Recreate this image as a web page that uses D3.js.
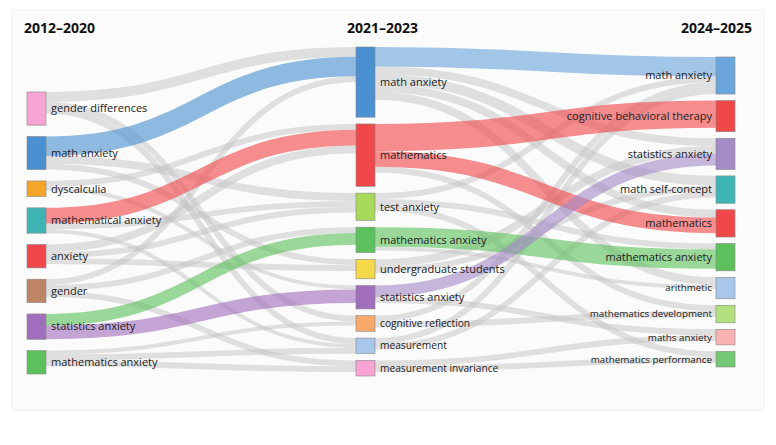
<!DOCTYPE html>
<html><head><meta charset="utf-8">
<script src="https://cdn.jsdelivr.net/npm/d3@7"></script>
<style>body{margin:0;background:#fff;font-family:"Open Sans",sans-serif}</style>
</head><body>
<script>
// columns and keyword nodes (values = occurrence weight)
const columns = ["2012–2020", "2021–2023", "2024–2025"]
const leftNames = ["gender differences","math anxiety","dyscalculia","mathematical anxiety","anxiety","gender","statistics anxiety","mathematics anxiety"]
const leftValues = [17,17,8,13,12,12,13,12]
const leftColors = ["#f7a3d3","#4b90d1","#f5a52a","#3eb4b4","#f0474a","#be8466","#a16ebd","#5cc15c"]
const midNames = ["math anxiety","mathematics","test anxiety","mathematics anxiety","undergraduate students","statistics anxiety","cognitive reflection","measurement","measurement invariance"]
const midValues = [36,32,14,13,10,12,8,8,8]
const midColors = ["#4b90d1","#f0474a","#a8d95a","#5cc15c","#f5d94a","#a16ebd","#f7a86a","#a9c7eb","#f7a3d3"]
const rightNames = ["math anxiety","cognitive behavioral therapy","statistics anxiety","math self-concept","mathematics","mathematics anxiety","arithmetic","mathematics development","maths anxiety","mathematics performance"]
const rightValues = [19,16,16,14,14,14,11,9,8,8]
const rightColors = ["#6aa5db","#f0474a","#a58bc6","#3eb4b4","#f0474a","#5cc15c","#a9c7eb","#b3e07f","#f9b3b3","#74c974"]

// links: [source column, source index, target index, value, highlighted]
const links = [
  [0,0,0,5,0],[0,0,7,3,0],[0,0,6,3,0],
  [0,1,0,10,1],[0,1,2,4,0],[0,1,4,3,0],
  [0,2,1,3,0],[0,2,5,2,0],
  [0,3,1,8,1],[0,3,2,3,0],[0,3,7,2,0],
  [0,4,1,4,0],[0,4,2,3,0],[0,4,4,3,0],
  [0,5,0,3,0],[0,5,3,3,0],[0,5,8,3,0],
  [0,6,5,7,1],[0,6,3,6,1],
  [0,7,8,3,0],[0,7,7,3,0],[0,7,6,2,0],
  [1,0,0,10,1],[1,0,2,4,0],[1,0,3,5,0],[1,0,6,4,0],[1,0,4,4,0],
  [1,1,1,14,1],[1,1,4,8,1],[1,1,7,3,0],
  [1,2,0,3,0],[1,2,5,3,0],[1,2,9,3,0],
  [1,3,5,10,1],[1,3,6,2,0],
  [1,4,2,4,0],[1,4,3,3,0],
  [1,5,2,6,1],[1,5,8,3,0],
  [1,6,0,3,0],[1,6,7,3,0],
  [1,7,0,3,0],[1,7,3,3,0],
  [1,8,9,3,0],[1,8,8,3,0]
]

const W = 776, H = 445, nodeW = 19
const colX = [27, 356, 716]
const colSpan = [[92, 374], [47, 376], [57, 367]]

const svg = d3.select("body").append("svg").attr("width", W).attr("height", H)
svg.append("rect").attr("x", 12).attr("y", 10).attr("width", 752).attr("height", 400)
  .attr("fill", "#fbfbfb").attr("stroke", "#f0f0f0")

const k = 1.95 // px per unit
const cols = [[leftNames, leftValues, leftColors], [midNames, midValues, midColors], [rightNames, rightValues, rightColors]]
const nodes = cols.map((c, ci) => {
  const total = d3.sum(c[1]) * k
  const pad = (colSpan[ci][1] - colSpan[ci][0] - total) / (c[0].length - 1)
  let y = colSpan[ci][0]
  return c[0].map((name, i) => {
    const h = c[1][i] * k
    const n = { name, col: ci, x: colX[ci], y0: y, y1: y + h, color: c[2][i], outY: y, inY: y }
    y += h + pad
    return n
  })
})

// build link geometry, stacking in order of the other end
const L = links.map(([c, s, t, v, hi]) => ({ src: nodes[c][s], tgt: nodes[c + 1][t], v, hi }))
d3.sort(L, d => d.src.col, d => d.src.y0, d => d.tgt.y0).forEach(d => { d.sy = d.src.outY + d.v * k / 2; d.src.outY += d.v * k })
d3.sort(L, d => d.tgt.col, d => d.tgt.y0, d => d.src.y0).forEach(d => { d.ty = d.tgt.inY + d.v * k / 2; d.tgt.inY += d.v * k })

const linkPath = d3.linkHorizontal().x(d => d[0]).y(d => d[1])
svg.append("g").selectAll("path")
  .data(d3.sort(L, d => d.hi))
  .join("path")
  .attr("d", d => linkPath({ source: [d.src.x + nodeW, d.sy], target: [d.tgt.x, d.ty] }))
  .attr("fill", "none")
  .attr("stroke", d => d.hi ? d.tgt.color : "#c4c4c4")
  .attr("stroke-opacity", d => d.hi ? 0.62 : 0.5)
  .attr("stroke-width", d => d.v * k)

const allNodes = nodes.flat()
svg.append("g").selectAll("rect").data(allNodes).join("rect")
  .attr("x", d => d.x).attr("y", d => d.y0)
  .attr("width", nodeW).attr("height", d => d.y1 - d.y0)
  .attr("fill", d => d.color).attr("stroke", "#888").attr("stroke-width", 0.6)

svg.append("g").selectAll("text").data(allNodes).join("text")
  .attr("x", d => d.col === 2 ? d.x - 4 : d.x + nodeW + 5)
  .attr("y", d => (d.y0 + d.y1) / 2)
  .attr("dy", "0.35em")
  .attr("text-anchor", d => d.col === 2 ? "end" : "start")
  .attr("font-size", d => (d.col === 2 && d.y1 - d.y0 < 25) ? 9.8 : (d.col === 1 && d.y1 - d.y0 < 17) ? 10.2 : 11)
  .attr("fill", "#222")
  .text(d => d.name)

svg.append("g").selectAll("text").data(columns).join("text")
  .attr("x", (d, i) => [24, 347, 752][i])
  .attr("y", 33)
  .attr("text-anchor", (d, i) => i === 2 ? "end" : "start")
  .attr("font-size", 14).attr("font-weight", "bold").attr("fill", "#111")
  .text(d => d)
</script>
</body></html>
